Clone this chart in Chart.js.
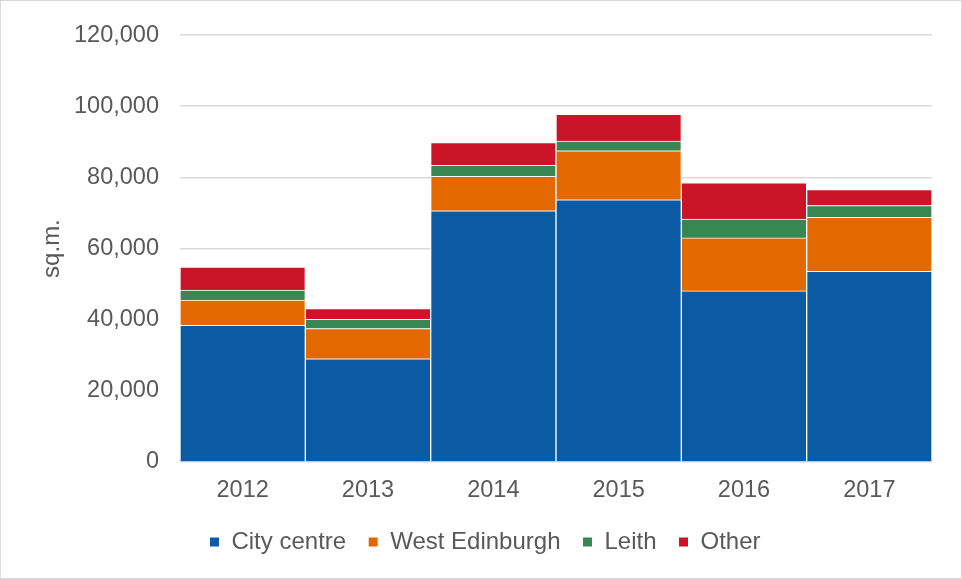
<!DOCTYPE html>
<html>
<head>
<meta charset="utf-8">
<script src="https://cdn.jsdelivr.net/npm/chart.js@4/dist/chart.umd.min.js"></script>
<style>
  html, body { margin: 0; padding: 0; background: #fff; }
  #wrap { width: 962px; height: 579px; position: relative; }
</style>
</head>
<body>
<div id="wrap"><canvas id="c" width="962" height="579"></canvas></div>
<script>
// Office floorspace take-up by area (sq.m.)
const years = ['2012', '2013', '2014', '2015', '2016', '2017'];
const cityCentre    = [38400, 29000, 70600, 73700, 48100, 53600];
const westEdinburgh = [7100, 8500, 9700, 13800, 14900, 15200];
const leith         = [2800, 2600, 3100, 2700, 5300, 3300];
const other         = [6500, 3000, 6400, 7500, 10200, 4500];
const yTicks = [0, 20000, 40000, 60000, 80000, 100000, 120000];

const textColor = '#595959';
const fontFamily = '"Liberation Sans", Arial, sans-serif';

const frame = {
  id: 'frame',
  afterDraw(chart) {
    const ctx = chart.ctx;
    ctx.save();
    ctx.strokeStyle = '#d9d9d9';
    ctx.lineWidth = 1;
    ctx.strokeRect(0.5, 0.5, chart.width - 1, chart.height - 1);
    ctx.restore();
  }
};

function series(label, data, color) {
  return {
    label, data,
    backgroundColor: color,
    borderColor: '#ffffff',
    borderWidth: 1,
    barPercentage: 1,
    categoryPercentage: 1
  };
}

new Chart(document.getElementById('c'), {
  type: 'bar',
  data: {
    labels: years,
    datasets: [
      series('City centre', cityCentre, '#0A5BA4'),
      series('West Edinburgh', westEdinburgh, '#E36800'),
      series('Leith', leith, '#388652'),
      series('Other', other, '#CC1429')
    ]
  },
  options: {
    responsive: false,
    animation: false,
    locale: 'en-US',
    layout: { padding: { left: 38, right: 30, top: 33, bottom: 15 } },
    plugins: {
      tooltip: { enabled: false },
      legend: {
        position: 'bottom',
        labels: {
          boxWidth: 10,
          boxHeight: 10,
          padding: 22,
          color: textColor,
          font: { family: fontFamily, size: 24 }
        }
      }
    },
    scales: {
      x: {
        stacked: true,
        grid: { display: false, drawTicks: false },
        border: { display: false },
        afterFit(scale) { scale.height = 46; },
        ticks: { color: textColor, padding: 14, font: { family: fontFamily, size: 23.5 } }
      },
      y: {
        stacked: true,
        min: 0,
        max: 120000,
        afterBuildTicks(scale) { scale.ticks = yTicks.map(v => ({ value: v })); },
        afterFit(scale) { scale.width = 142; },
        grid: { color: '#d9d9d9', lineWidth: 1.5, drawTicks: false },
        border: { display: false },
        ticks: { color: textColor, padding: 21, font: { family: fontFamily, size: 23.5 } },
        title: {
          display: true,
          text: 'sq.m.',
          color: textColor,
          padding: { top: 0, bottom: 0 },
          font: { family: fontFamily, size: 24 }
        }
      }
    }
  },
  plugins: [frame]
});
</script>
</body>
</html>
